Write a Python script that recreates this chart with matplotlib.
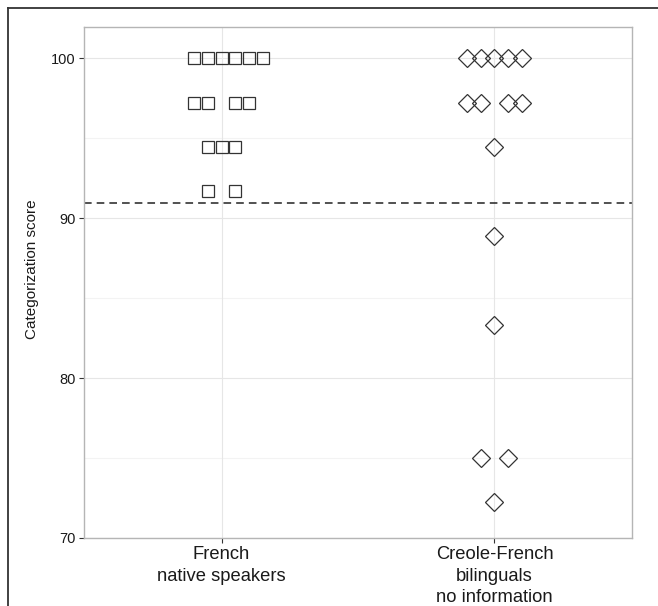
import matplotlib
matplotlib.use('Agg')
import matplotlib.pyplot as plt
from matplotlib.lines import Line2D

plt.rcParams['font.family'] = ['Liberation Sans', 'DejaVu Sans']

# Data
groups = ['French\nnative speakers', 'Creole-French\nbilinguals\nno information']

french_scores = [100, 100, 100, 100, 100, 100,
                 97.22, 97.22, 97.22, 97.22,
                 94.44, 94.44, 94.44,
                 91.67, 91.67]
french_slots = [-2, -1, 0, 1, 2, 3,
                -2, -1, 1, 2,
                -1, 0, 1,
                -1, 1]

creole_scores = [100, 100, 100, 100, 100,
                 97.22, 97.22, 97.22, 97.22,
                 94.44, 88.89, 83.33,
                 75, 75, 72.22]
creole_slots = [-2, -1, 0, 1, 2,
                -2, -1, 1, 2,
                0, 0, 0,
                -1, 1, 0]

threshold = 90.93
yticks = [70, 80, 90, 100]

SLOT = 0.0504  # horizontal stacking step (data units)

fig = plt.figure(figsize=(6.58, 6.06), dpi=100)
ax = fig.add_axes([84 / 658, 1 - 538 / 606, 548 / 658, 511 / 606])

# grid (theme_bw look)
for y in [75, 85, 95]:
    ax.axhline(y, color='#f3f3f3', lw=0.8, zorder=0)
for y in yticks:
    ax.axhline(y, color='#e6e6e6', lw=0.8, zorder=0)
for x in [1, 2]:
    ax.axvline(x, color='#e6e6e6', lw=0.8, zorder=0)

ax.plot([1 + s * SLOT for s in french_slots], french_scores, ls='none',
        marker='s', ms=9.3, mfc='none', mec='#333333', mew=0.9, zorder=3)
ax.plot([2 + s * SLOT for s in creole_slots], creole_scores, ls='none',
        marker='D', ms=9.3, mfc='none', mec='#333333', mew=0.9, zorder=3)

ax.axhline(threshold, color='#222222', lw=1.1, ls=(0, (5, 3.3)), zorder=2)

ax.set_xlim(0.496, 2.504)
ax.set_ylim(70, 101.94)
ax.set_xticks([1, 2])
ax.set_xticklabels(groups, fontsize=13.2, color='#1a1a1a', linespacing=1.33)
ax.set_yticks(yticks)
ax.set_yticklabels([str(t) for t in yticks], fontsize=10.5, color='#1a1a1a')
ax.tick_params(axis='both', length=3.6, width=0.8, color='#333333', pad=2.5)

ax.set_ylabel('Categorization score', fontsize=11, color='#1a1a1a')
ax.yaxis.set_label_coords(-0.082, 0.527)

for sp in ax.spines.values():
    sp.set_color('#b5b5b5')
    sp.set_linewidth(1.0)

# outer frame (top and left edges visible)
x0 = 7.5 / 658
y0 = 1 - 7.5 / 606
fig.add_artist(Line2D([x0, 1], [y0, y0], transform=fig.transFigure,
                      color='#333333', lw=1.3))
fig.add_artist(Line2D([x0, x0], [0, y0], transform=fig.transFigure,
                      color='#333333', lw=1.3))

fig.savefig('out.png', dpi=100)
